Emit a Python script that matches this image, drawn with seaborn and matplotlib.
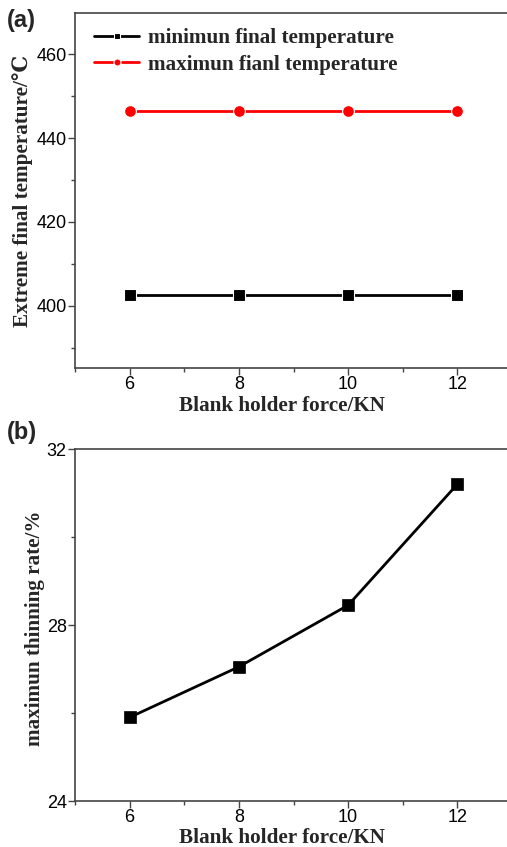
import matplotlib
matplotlib.use("Agg")
import matplotlib.pyplot as plt
import seaborn as sns
import pandas as pd
from matplotlib.ticker import MultipleLocator

# ---- data ----
force = [6, 8, 10, 12]
min_final_temp = [402.5, 402.5, 402.5, 402.5]
max_final_temp = [446.5, 446.5, 446.5, 446.5]
max_thinning = [25.9, 27.05, 28.45, 31.2]

label_min = "minimun final temperature"
label_max = "maximun fianl temperature"
xlabel = "Blank holder force/KN"
ylabel_a = "Extreme final temperature/\u2103"
ylabel_b = "maximun thinning rate/%"

sns.set_theme(style="ticks")
plt.rcParams['font.family'] = ['Liberation Sans', 'DejaVu Sans']

W, H = 507, 847
fig = plt.figure(figsize=(W / 100, H / 100), dpi=100)

def frac(x0, y0, x1, y1):
    return [x0 / W, 1 - y1 / H, (x1 - x0) / W, (y1 - y0) / H]

ax1 = fig.add_axes(frac(75, 13, 512, 368))
ax2 = fig.add_axes(frac(75, 449, 512, 801))

FS = 15.2
serif_bold = dict(family=['Liberation Serif', 'DejaVu Serif'], weight='bold', size=FS)

df_a = pd.DataFrame({"force": force, "min": min_final_temp, "max": max_final_temp})
sns.lineplot(data=df_a, x="force", y="min", ax=ax1, color="black", marker="s",
             markersize=8, markeredgecolor="white", markeredgewidth=0.8,
             linewidth=2, label=label_min)
sns.lineplot(data=df_a, x="force", y="max", ax=ax1, color="#ff0000", marker="o",
             markersize=8.5, markeredgecolor="white", markeredgewidth=0.8,
             linewidth=2, label=label_max)

df_b = pd.DataFrame({"force": force, "thin": max_thinning})
sns.lineplot(data=df_b, x="force", y="thin", ax=ax2, color="black", marker="s",
             markersize=8.5, markeredgecolor="black", markeredgewidth=0.5,
             linewidth=2)

for ax in (ax1, ax2):
    ax.set_xlim(5, 13)
    ax.set_xticks(force)
    ax.xaxis.set_minor_locator(MultipleLocator(1))
    ax.tick_params(which='major', direction='out', length=5, width=1, pad=1,
                   labelsize=13, colors='#444444', labelcolor='black')
    ax.tick_params(which='minor', direction='out', length=3, width=1, colors='#444444')
    for s in ['left', 'bottom', 'top']:
        ax.spines[s].set_color('#444444')
        ax.spines[s].set_linewidth(1.2)
    ax.spines['right'].set_visible(False)
    ax.set_xlabel(xlabel, fontdict=serif_bold)

ax1.set_ylim(385.2, 469.8)
ax1.set_yticks([400, 420, 440, 460])
ax1.yaxis.set_minor_locator(MultipleLocator(10))
ax1.set_ylabel(ylabel_a, fontdict=serif_bold)
ax1.xaxis.set_label_coords(0.474, -0.078)
ax1.yaxis.set_label_coords(-0.096, 0.5)

ax2.set_ylim(24, 32)
ax2.set_yticks([24, 28, 32])
ax2.yaxis.set_minor_locator(MultipleLocator(2))
ax2.set_ylabel(ylabel_b, fontdict=serif_bold)
ax2.xaxis.set_label_coords(0.474, -0.076)
ax2.yaxis.set_label_coords(-0.069, 0.49)

leg = ax1.legend(loc='upper left', bbox_to_anchor=(0.0, 1.01), frameon=False,
                 prop=dict(family=['Liberation Serif', 'DejaVu Serif'], weight='bold', size=FS),
                 handlelength=2.15, handletextpad=0.4, labelspacing=0.3, markerscale=0.6)

fig.text(7 / W, 1 - 20 / H, "(a)", fontsize=17, fontweight='bold', va='center', ha='left')
fig.text(7 / W, 1 - 432 / H, "(b)", fontsize=17, fontweight='bold', va='center', ha='left')

fig.savefig("out.png", dpi=100)
